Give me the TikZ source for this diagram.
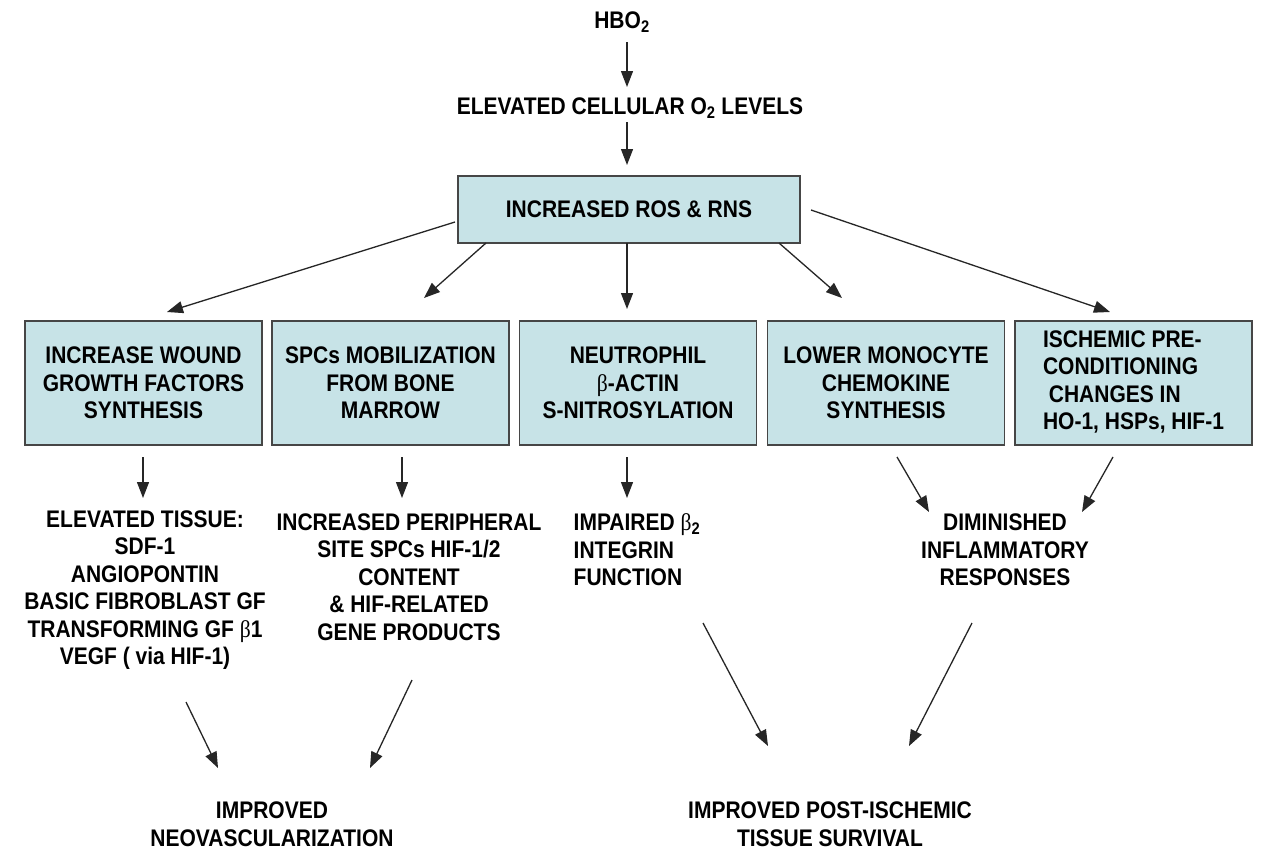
\documentclass[tikz,border=0pt]{standalone}
\usepackage{fontspec}
\setmainfont{Liberation Sans}[FakeStretch=0.875]
\newfontfamily\symf{Liberation Serif}[FakeStretch=0.9]
\usetikzlibrary{arrows.meta,calc}
\definecolor{boxfill}{RGB}{199,227,231}
\definecolor{boxline}{RGB}{70,70,70}
\newcommand\bet{{\symf\mdseries β}}
\tikzset{
  lbl/.style={font=\fontsize{24}{27.5}\selectfont\bfseries, align=center, inner sep=0pt},
  bx/.style={lbl, draw=boxline, fill=boxfill, line width=1.8pt, minimum height=124, minimum width=237},
  arr/.style={line width=1.3pt, draw=black!85, -{Triangle[length=16pt,width=12pt]}},
}
\begin{document}
\begin{tikzpicture}[x=1pt,y=-1pt]
\fill[white] (0,0) rectangle (1261,849);
\useasboundingbox (0,0) rectangle (1261,849);
% top chain
\node[lbl] (hbo) at (622,22) {HBO\textsubscript{2}};
\node[lbl] (title) at (630,108) {ELEVATED CELLULAR O\textsubscript{2} LEVELS};
\node[bx, minimum width=342, minimum height=67] (top) at (629,209.5) {INCREASED ROS \& RNS};
% boxes
\node[bx] (b1) at (143.5,383) {INCREASE WOUND\\GROWTH FACTORS\\SYNTHESIS};
\node[bx] (b2) at (390.5,383) {SPCs MOBILIZATION\\FROM BONE\\MARROW};
\node[bx] (b3) at (638,383) {NEUTROPHIL\\\bet-ACTIN\\S-NITROSYLATION};
\node[bx] (b4) at (886,383) {LOWER MONOCYTE\\CHEMOKINE\\SYNTHESIS};
\node[bx] (b5) at (1133.5,383) {\begin{tabular}{@{}l@{}}ISCHEMIC PRE-\\CONDITIONING\\\ CHANGES IN\\HO-1, HSPs, HIF-1\end{tabular}};
% results
\node[lbl] (t1) at (145,590) {ELEVATED TISSUE:\\SDF-1\\ANGIOPONTIN\\BASIC FIBROBLAST GF\\TRANSFORMING GF \bet1\\VEGF ( via HIF-1)};
\node[lbl] (t2) at (409,577) {INCREASED PERIPHERAL\\SITE SPCs HIF-1/2\\CONTENT\\\& HIF-RELATED\\GENE PRODUCTS};
\node[lbl, align=left] (t3) at (637,550) {IMPAIRED \bet\textsubscript{2}\\INTEGRIN\\FUNCTION};
\node[lbl] (t4) at (1005,550) {DIMINISHED\\INFLAMMATORY\\RESPONSES};
\node[lbl] (n) at (272,824) {IMPROVED\\NEOVASCULARIZATION};
\node[lbl] (p) at (830,824) {IMPROVED POST-ISCHEMIC\\TISSUE SURVIVAL};
% connectors
\draw[arr] ($(hbo.center)+(5,20)$) -- ($(title.center)+(-3,-21)$);
\draw[arr] ($(title.center)+(-3,14)$) -- ($(top.center)+(-2,-44.5)$);
\draw[arr] ($(top.center)+(-174,12.5)$) -- ($(b1.center)+(23.5,-71)$);
\draw[arr] ($(top.center)+(-143,33.5)$) -- ($(b2.center)+(33.5,-85)$);
\draw[arr] ($(top.center)+(-2,33.5)$) -- ($(b3.center)+(-11,-74)$);
\draw[arr] ($(top.center)+(150,33.5)$) -- ($(b4.center)+(-44,-85)$);
\draw[arr] ($(top.center)+(182,0.5)$) -- ($(b5.center)+(-23.5,-71)$);
\draw[arr] ($(b1.center)+(-0.5,74)$) -- ($(t1.center)+(-2,-92)$);
\draw[arr] ($(b2.center)+(11.5,74)$) -- ($(t2.center)+(-7,-79)$);
\draw[arr] ($(b3.center)+(-11,74)$) -- ($(t3.center)+(-10,-52)$);
\draw[arr] ($(b4.center)+(11,74)$) -- ($(t4.center)+(-76,-38)$);
\draw[arr] ($(b5.center)+(-20.5,74)$) -- ($(t4.center)+(77,-38)$);
\draw[arr] ($(t1.center)+(41,112)$) -- ($(n.center)+(-54,-56)$);
\draw[arr] ($(t2.center)+(3,103)$) -- ($(n.center)+(98,-56)$);
\draw[arr] ($(t3.center)+(66,73)$) -- ($(p.center)+(-62,-78)$);
\draw[arr] ($(t4.center)+(-33,73)$) -- ($(p.center)+(79,-78)$);
\end{tikzpicture}
\end{document}
